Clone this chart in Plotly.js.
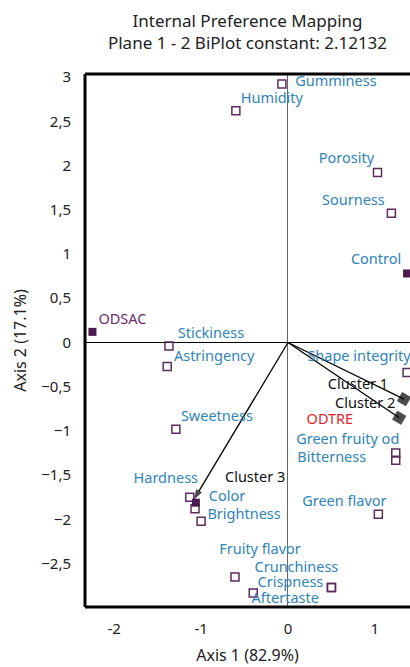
<!DOCTYPE html>
<html>
<head>
<meta charset="utf-8">
<script src="https://cdn.plot.ly/plotly-3.0.1.min.js"></script>
<style>html,body{margin:0;padding:0;background:#fff;}#chart{width:410px;height:667px;}</style>
</head>
<body>
<div id="chart"></div>
<script>
// ---- data ----
const varNames = ["Gumminess","Humidity","Porosity","Sourness","Stickiness","Astringency","Sweetness","Shape integrity","Green fruity od","Bitterness","Hardness","Color","Brightness","Green flavor","Fruity flavor","Crunchiness","Crispness","Aftertaste"];
const varX = [-0.07,-0.60,1.03,1.19,-1.37,-1.39,-1.29,1.37,1.24,1.24,-1.13,-1.07,-1.00,1.04,-0.61,0.50,0.50,-0.40];
const varY = [2.92,2.62,1.92,1.46,-0.04,-0.27,-0.98,-0.34,-1.25,-1.33,-1.75,-1.88,-2.02,-1.94,-2.65,-2.77,-2.77,-2.83];

const obsNames = ["ODSAC","Control","ODTRE"];
const obsX = [-2.25,1.37,-1.06];
const obsY = [0.12,0.78,-1.81];

const clusterNames = ["Cluster 1","Cluster 2","Cluster 3"];
const clusterX = [1.335,1.28,-1.08];
const clusterY = [-0.64,-0.85,-1.77];

const xTickVals = [-2,-1,0,1];
const yTickVals = [-2.5,-2,-1.5,-1,-0.5,0,0.5,1,1.5,2,2.5,3];

// ---- label placement (pixel offsets of label centre from its point) ----
const varLabelOff = [[54,-2],[36,-11],[-31,-13],[-38,-12],[42,-12],[47,-9],[41,-12],[-48,-15],[-48,-13],[-64,-2],[-24,-18],[32,-11],[43,-6],[-34,-12],[25,-27],[-35,-19],[-41,-4],[32,6]];
const obsLabelOff = [[30,-11],[-31,-13],[134,-82]];
const clusterLabelOff = [[-46,-14],[-34,-13],[61,-21]];
const obsLabelColors = ["#6e2c6e","#2f84b8","#e3242b"];

// ---- layout geometry ----
const W = 410, H = 667;
const M = {l:85, r:0, t:74, b:60};
const xRange = [-2.336, 1.404];
const yRange = [-2.989, 3.034];
const pxX = (W - M.l - M.r) / (xRange[1] - xRange[0]);
const pxY = (H - M.t - M.b) / (yRange[1] - yRange[0]);

const varBlue = "#2f84b8";
const purple = "#5c2d5c";
const font = "Noto Sans, Open Sans, sans-serif";

function labelTrace(xs, ys, names, offs, colors) {
  return {
    type: "scatter", mode: "text", cliponaxis: false, hoverinfo: "skip", showlegend: false,
    x: xs.map((v, i) => v + offs[i][0] / pxX),
    y: ys.map((v, i) => v - offs[i][1] / pxY),
    text: names, textposition: "middle center",
    textfont: {family: font, size: 14.5, color: colors}
  };
}

const traces = [];

// cluster vectors
clusterNames.forEach((n, i) => {
  const isArrow = i === 2;
  traces.push({
    type: "scatter", mode: "lines+markers", showlegend: false, hoverinfo: "skip", cliponaxis: false,
    x: [0, clusterX[i]], y: [0, clusterY[i]],
    line: {color: "#000", width: 1.3},
    marker: {
      size: [0, 10],
      symbol: isArrow ? "arrow" : "square",
      angleref: isArrow ? "previous" : "up",
      angle: isArrow ? 0 : 30,
      color: "#000",
      line: {width: 0.5, color: "#000"}
    }
  });
});

// variables (open squares)
traces.push({
  type: "scatter", mode: "markers", showlegend: false, cliponaxis: false,
  x: varX, y: varY, text: varNames,
  marker: {symbol: "square-open", size: 8, color: purple, line: {width: 1.5, color: purple}}
});

// observations (filled squares)
traces.push({
  type: "scatter", mode: "markers", showlegend: false, cliponaxis: true,
  x: obsX, y: obsY, text: obsNames,
  marker: {symbol: "square", size: 8, color: "#4d1a4d"}
});

traces.push(labelTrace(varX, varY, varNames, varLabelOff, varNames.map(() => varBlue)));
traces.push(labelTrace(obsX, obsY, obsNames, obsLabelOff, obsLabelColors));
traces.push(labelTrace(clusterX, clusterY, clusterNames, clusterLabelOff, clusterNames.map(() => "#111")));

const layout = {
  width: W, height: H,
  margin: M,
  paper_bgcolor: "#fff", plot_bgcolor: "#fff",
  separators: ",.",
  font: {family: font, size: 15, color: "#222"},
  title: {
    text: "Internal Preference Mapping<br>Plane 1 - 2 BiPlot constant: 2.12132",
    x: 0.5, xref: "paper", y: 1 - 27 / 667, yref: "container", yanchor: "middle",
    font: {family: font, size: 17, color: "#222"}
  },
  xaxis: {
    range: xRange, tickvals: xTickVals, ticktext: xTickVals.map(String),
    showgrid: false, zeroline: true, zerolinecolor: "#666", zerolinewidth: 1,
    ticks: "outside", ticklen: 8, tickcolor: "rgba(0,0,0,0)",
    tickfont: {family: font, size: 15, color: "#222"},
    title: {text: "Axis 1 (82.9%)", font: {family: font, size: 16, color: "#222"}, standoff: 12},
    showline: false, fixedrange: true
  },
  yaxis: {
    range: yRange, tickvals: yTickVals,
    showgrid: false, zeroline: true, zerolinecolor: "#000", zerolinewidth: 1,
    ticks: "outside", ticklen: 10, tickcolor: "rgba(0,0,0,0)",
    tickfont: {family: font, size: 15, color: "#222"},
    title: {text: "Axis 2 (17.1%)", font: {family: font, size: 16, color: "#222"}, standoff: 10},
    showline: false, fixedrange: true
  },
  shapes: [
    {type: "line", xref: "paper", yref: "paper", x0: 0, x1: 0, y0: 0, y1: 1, line: {color: "#000", width: 3}},
    {type: "line", xref: "paper", yref: "paper", x0: 0, x1: 1, y0: 1, y1: 1, line: {color: "#000", width: 3}},
    {type: "line", xref: "paper", yref: "paper", x0: 0, x1: 1, y0: 0, y1: 0, line: {color: "#000", width: 3}}
  ]
};

Plotly.newPlot("chart", traces, layout, {displayModeBar: false, staticPlot: true});
</script>
</body>
</html>
